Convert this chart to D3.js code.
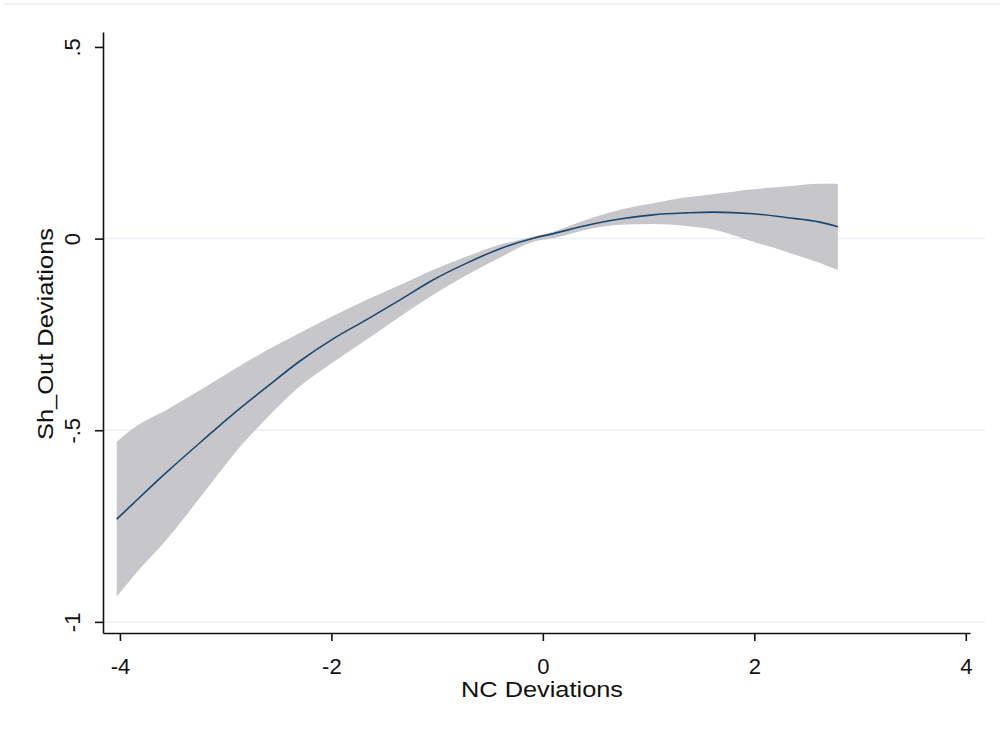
<!DOCTYPE html>
<html>
<head>
<meta charset="utf-8">
<script src="https://cdn.jsdelivr.net/npm/d3@7"></script>
<style>
  body { margin: 0; background: #fff; }
  svg { display: block; font-family: "Liberation Sans", Arial, sans-serif; }
</style>
</head>
<body>
<div id="chart"></div>
<script>
const xVals  = [-4.03, -3.87, -3.56, -3.24, -2.93, -2.61, -2.30, -1.98, -1.67, -1.35, -1.04, -0.72, -0.41, -0.09, 0.10, 0.41, 0.73, 1.04, 1.36, 1.61, 1.99, 2.30, 2.62, 2.79];
const fitVals = [-0.732, -0.690, -0.610, -0.532, -0.458, -0.387, -0.320, -0.261, -0.212, -0.160, -0.108, -0.064, -0.027, 0.001, 0.013, 0.034, 0.051, 0.062, 0.067, 0.069, 0.065, 0.055, 0.043, 0.031];
const loVals = [-0.934, -0.880, -0.786, -0.675, -0.565, -0.468, -0.386, -0.322, -0.264, -0.203, -0.147, -0.095, -0.050, -0.008, 0.001, 0.023, 0.036, 0.038, 0.033, 0.024, -0.008, -0.034, -0.064, -0.082];
const hiVals = [-0.530, -0.494, -0.447, -0.395, -0.343, -0.291, -0.246, -0.201, -0.160, -0.121, -0.082, -0.047, -0.016, 0.005, 0.018, 0.049, 0.075, 0.092, 0.108, 0.116, 0.129, 0.136, 0.143, 0.143];

const xTicks = [-4, -2, 0, 2, 4];
const xTickLabels = ["-4", "-2", "0", "2", "4"];
const yTicks = [0.5, 0, -0.5, -1];
const yTickLabels = [".5", "0", "-.5", "-1"];
const yGrid = [0, -0.5, -1];

const xTitle = "NC Deviations";
const yTitle = "Sh_Out Deviations";

(function() {
    const W = 1000, H = 730;
    const plot = { left: 103, right: 970, top: 32, bottom: 633 };
    const gridRight = 985;

    const svg = d3.select("#chart").append("svg")
        .attr("width", W)
        .attr("height", H);

    // faint frame line at the very top
    svg.append("line")
        .attr("x1", 4).attr("x2", W)
        .attr("y1", 4).attr("y2", 4)
        .attr("stroke", "#edf0f3")
        .attr("stroke-width", 2);

    const x = d3.scaleLinear().domain([-4.16, 4.04]).range([plot.left, plot.right]);
    const y = d3.scaleLinear().domain([-1.029, 0.539]).range([plot.bottom, plot.top]);

    // grid
    svg.selectAll(".grid")
        .data(yGrid)
        .enter().append("line")
        .attr("class", "grid")
        .attr("x1", plot.left).attr("x2", gridRight)
        .attr("y1", d => y(d)).attr("y2", d => y(d))
        .attr("stroke", "#eaf0f5")
        .attr("stroke-width", 1.5);

    const rows = xVals.map((v, i) => ({ x: v, fit: fitVals[i], lo: loVals[i], hi: hiVals[i] }));

    // confidence band
    svg.append("path")
        .datum(rows)
        .attr("d", d3.area()
            .x(d => x(d.x))
            .y0(d => y(d.lo))
            .y1(d => y(d.hi))
            .curve(d3.curveMonotoneX))
        .attr("fill", "#c7c6ca");

    // fitted line
    svg.append("path")
        .datum(rows)
        .attr("d", d3.line()
            .x(d => x(d.x))
            .y(d => y(d.fit))
            .curve(d3.curveMonotoneX))
        .attr("fill", "none")
        .attr("stroke", "#1a476f")
        .attr("stroke-width", 1.6);

    // y axis
    const yAxis = svg.append("g")
        .attr("transform", `translate(${plot.left},0)`)
        .call(d3.axisLeft(y)
            .tickValues(yTicks)
            .tickSize(8)
            .tickSizeOuter(0)
            .tickFormat((d, i) => yTickLabels[i]));

    yAxis.selectAll("text")
        .attr("transform", "rotate(-90)")
        .attr("x", 0)
        .attr("y", -23)
        .attr("dy", 0)
        .attr("text-anchor", "middle")
        .attr("fill", "#111")
        .style("font-size", "22px")
        .style("font-family", "Liberation Sans, Arial, sans-serif");

    // x axis
    const xAxis = svg.append("g")
        .attr("transform", `translate(0,${plot.bottom})`)
        .call(d3.axisBottom(x)
            .tickValues(xTicks)
            .tickSize(8)
            .tickSizeOuter(0)
            .tickFormat((d, i) => xTickLabels[i]));

    xAxis.selectAll("text")
        .attr("y", 41)
        .attr("dy", 0)
        .attr("fill", "#111")
        .style("font-size", "22px")
        .style("font-family", "Liberation Sans, Arial, sans-serif");

    svg.selectAll(".domain, .tick line")
        .attr("stroke", "#111")
        .attr("stroke-width", 1.6);

    // axis titles
    svg.append("text")
        .attr("x", 542)
        .attr("y", 697)
        .attr("text-anchor", "middle")
        .attr("textLength", 162)
        .attr("lengthAdjust", "spacingAndGlyphs")
        .attr("fill", "#111")
        .style("font-size", "22px")
        .text(xTitle);

    svg.append("text")
        .attr("transform", "translate(53,334) rotate(-90)")
        .attr("text-anchor", "middle")
        .attr("textLength", 212)
        .attr("lengthAdjust", "spacingAndGlyphs")
        .attr("fill", "#111")
        .style("font-size", "22px")
        .text(yTitle);
})();
</script>
</body>
</html>
